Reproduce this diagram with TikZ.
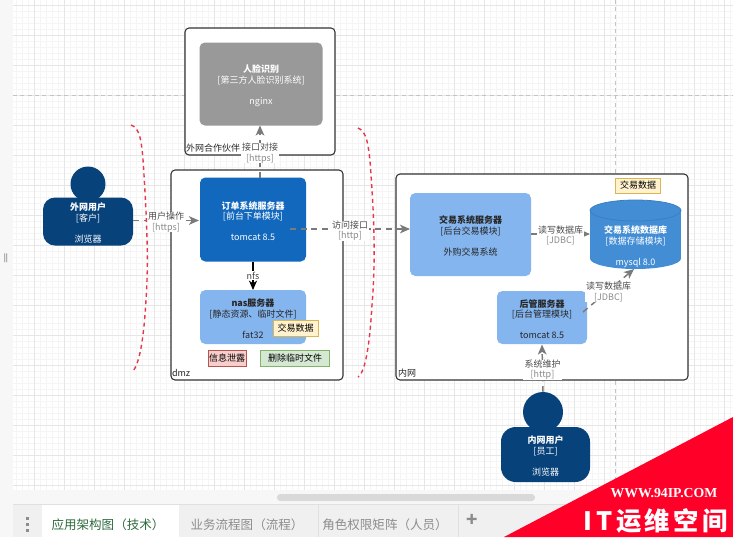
\documentclass[tikz,border=0pt]{standalone}
\usepackage{fontspec}
\setmainfont{Noto Sans CJK SC}
\newfontfamily\wmlatin{Liberation Serif}
\newfontfamily\wmcjk[LetterSpace=14]{Noto Sans CJK SC}
\usetikzlibrary{arrows.meta}
\definecolor{gridminor}{HTML}{F5F5F5}
\definecolor{gridmajor}{HTML}{E6E6E6}
\definecolor{pagebreak}{HTML}{C4C4C4}
\definecolor{edgegray}{HTML}{7A7A7A}
\definecolor{subgray}{HTML}{8A8A8A}
\definecolor{usernavy}{HTML}{08427B}
\definecolor{orderblue}{HTML}{1168BD}
\definecolor{lightblue}{HTML}{85B5EE}
\definecolor{dbblue}{HTML}{438DD5}
\definecolor{dbedge}{HTML}{3C7FC0}
\definecolor{extgray}{HTML}{999999}
\definecolor{notey}{HTML}{FFF2CC}
\definecolor{noteyb}{HTML}{D6B656}
\definecolor{noter}{HTML}{F8CECC}
\definecolor{noterb}{HTML}{B85450}
\definecolor{noteg}{HTML}{D5E8D4}
\definecolor{notegb}{HTML}{82B366}
\definecolor{curve}{HTML}{E8364A}
\definecolor{wmred}{HTML}{FF0029}
\definecolor{tabgreen}{HTML}{2E6B3E}
\definecolor{tabgray}{HTML}{8C8C8C}
\tikzset{
  x=0.75pt,y=-0.75pt,
  every node/.style={font=\fontsize{6.75pt}{7.9pt}\selectfont,align=center,inner sep=0pt,outer sep=0pt},
  boundary/.style={draw=black!80,line width=0.8pt,fill=white,rounded corners=3pt,anchor=north west},
  sysbox/.style={rounded corners=4pt,anchor=center},
  caplabel/.style={anchor=west,text=black!85},
  usertext/.style={text=white},
  notebox/.style={draw=#1,line width=0.6pt,anchor=center},
  edgelink/.style={draw=edgegray,line width=1.1pt,dash pattern=on 4.5pt off 3.5pt,-{Stealth[length=7.5pt,width=6.5pt,inset=2pt]}},
  edgetext/.style={fill=white,text=black!70,inner xsep=1pt,yshift=-1.2pt},
  redcurve/.style={draw=curve,line width=1.05pt,dash pattern=on 3pt off 2.6pt},
  tabtext/.style={font=\fontsize{9.4pt}{11pt}\selectfont,text=tabgray},
}
\newcommand{\gsub}[1]{\textcolor{subgray}{#1}}
\newcommand{\firstln}{\rule{0pt}{8.1pt}}
\begin{document}
\begin{tikzpicture}
\useasboundingbox (0,0) rectangle (733,537);
\fill[white] (0,0) rectangle (733,537);
% canvas grid
\foreach \gx in {16,22,...,733} \draw[gridminor,line width=0.35pt] (\gx,0) -- (\gx,490);
\foreach \gy in {5,11,...,490} \draw[gridminor,line width=0.35pt] (13,\gy) -- (733,\gy);
\foreach \gx in {34,64,...,733} \draw[gridmajor,line width=0.5pt] (\gx,0) -- (\gx,490);
\foreach \gy in {5,35,...,490} \draw[gridmajor,line width=0.5pt] (13,\gy) -- (733,\gy);
\draw[pagebreak,line width=0.5pt,dash pattern=on 3pt off 2.5pt] (13,95) -- (733,95);
\draw[pagebreak,line width=0.5pt,dash pattern=on 3pt off 2.5pt] (615,0) -- (615,490);
% editor chrome
\fill[white!97!black] (0,0) rectangle (13,537);
\fill[white!97!black] (13,490) rectangle (733,504);
\fill[white!94!black] (13,504) rectangle (733,537);
\draw[white!88!black,line width=0.4pt] (13,504) -- (733,504);
\fill[white] (42,505) rectangle (179,537);
\draw[white!88!black,line width=0.4pt] (318,505) -- (318,537) (458,505) -- (458,537);
\fill[white!85!black,rounded corners=2.5pt] (277,494) rectangle (535,501);
\node[text=black!70,font=\fontsize{6pt}{7pt}\selectfont] (grip) at (6,258) {||};
\foreach \dy in {518,524,530} \fill[black!45] (25.5,\dy-1.5) rectangle (28.5,\dy+1.5);
\node[tabtext,text=tabgreen] (tab1) at (108,525) {应用架构图（技术）};
\node[tabtext] (tab2) at (247,525) {业务流程图（流程）};
\node[tabtext] (tab3) at (385,525) {角色权限矩阵（人员）};
\node[tabtext,font=\fontsize{14pt}{14pt}\selectfont\bfseries] (tabplus) at (472,520) {+};
% boundaries
\node[boundary,minimum width=150*0.75pt,minimum height=127*0.75pt] (partner) at (185,28) {};
\node[boundary,minimum width=172*0.75pt,minimum height=210*0.75pt] (dmz) at (171,170) {};
\node[boundary,minimum width=292*0.75pt,minimum height=206*0.75pt] (intranet) at (396,174) {};
\node[caplabel] (partnercap) at (186,148) {外网合作伙伴};
\node[caplabel] (dmzcap) at (172,373) {dmz};
\node[caplabel] (intranetcap) at (398,373) {内网};
% systems
\node[sysbox,fill=extgray,text=white,minimum width=123*0.75pt,minimum height=83*0.75pt] (face) at (261,84) {\firstln\textbf{人脸识别}\\{}[第三方人脸识别系统]\\[7.9pt]nginx};
\node[sysbox,fill=orderblue,text=white,minimum width=106*0.75pt,minimum height=84*0.75pt] (order) at (253,219.5) {\firstln\textbf{订单系统服务器}\\{}[前台下单模块]\\[7.9pt]tomcat 8.5};
\node[sysbox,fill=lightblue,text=black!85,minimum width=106*0.75pt,minimum height=54*0.75pt] (nas) at (253,317) {\firstln\textbf{nas服务器}\\{}[静态资源、临时文件]\\[7.9pt]fat32};
\node[sysbox,fill=lightblue,text=black!85,minimum width=121*0.75pt,minimum height=83*0.75pt] (trade) at (470.5,234.5) {\firstln\textbf{交易系统服务器}\\{}[后台交易模块]\\[7.9pt]外购交易系统};
\node[sysbox,fill=lightblue,text=black!85,minimum width=90*0.75pt,minimum height=53*0.75pt] (admin) at (542,317.5) {\firstln\textbf{后管服务器}\\{}[后台管理模块]\\[7.9pt]tomcat 8.5};
% database cylinder
\coordinate (db) at (635.5,234.5);
\fill[dbblue] (590,210.5) rectangle (681,258.5);
\fill[dbblue] (635.5,258.5) ellipse[x radius=45.5,y radius=10.5];
\filldraw[fill=dbblue,draw=dbedge,line width=0.6pt] (635.5,210.5) ellipse[x radius=45.5,y radius=10.5];
\node[usertext] (dbtext) at (635.5,246.5) {\textbf{交易系统数据库}\\{}[数据存储模块]\\[7.9pt]mysql 8.0};
% notes
\node[notebox=noteyb,fill=notey,minimum width=45*0.75pt,minimum height=16*0.75pt] (note1) at (295.5,328) {交易数据};
\node[notebox=noterb,fill=noter,minimum width=38*0.75pt,minimum height=16*0.75pt] (note2) at (227,358) {信息泄露};
\node[notebox=notegb,fill=noteg,minimum width=69*0.75pt,minimum height=16*0.75pt] (note3) at (295,358) {删除临时文件};
\node[notebox=noteyb,fill=notey,minimum width=45*0.75pt,minimum height=15*0.75pt] (note4) at (638,185.5) {交易数据};
% persons
\fill[usernavy] (88,184) circle[radius=17.5];
\node[sysbox,fill=usernavy,rounded corners=9pt,text=white,minimum width=90*0.75pt,minimum height=48*0.75pt] (outuser) at (88,221.5) {\firstln\textbf{外网用户}\\{}[客户]\\[7.9pt]浏览器};
\fill[usernavy] (543,412) circle[radius=20];
\node[sysbox,fill=usernavy,rounded corners=11pt,text=white,minimum width=89*0.75pt,minimum height=55*0.75pt] (inuser) at (545.5,454.5) {\firstln\textbf{内网用户}\\{}[员工]\\[7.9pt]浏览器};
% connectors
\coordinate (orderout) at (290,229);
\coordinate (tradein) at (410,229);
\coordinate (adminout) at (583,312);
\coordinate (dbin) at (634,269);
\coordinate (orderup) at (260,178);
\coordinate (faceIn) at (260,125.5);
\coordinate (trout) at (531,234);
\coordinate (dbleft) at (590,234);
\coordinate (inuserup) at (543,392);
\coordinate (adminin) at (542,344.5);
\coordinate (ouout) at (133,220.5);
\coordinate (orderin) at (199,220.5);
\draw[edgelink] (ouout) -- node[edgetext]{用户操作\\\gsub{[https]}} (orderin);
\draw[edgelink] (orderup) -- node[edgetext]{接口对接\\\gsub{[https]}} (faceIn);
\draw[edgelink] (orderout) -- node[edgetext]{访问接口\\\gsub{[http]}} (tradein);
\draw[edgelink] (trout) -- node[edgetext]{读写数据库\\\gsub{[JDBC]}} (dbleft);
\draw[edgelink] (adminout) -- node[edgetext]{读写数据库\\\gsub{[JDBC]}} (dbin);
\draw[edgelink] (inuserup) -- node[edgetext]{系统维护\\\gsub{[http]}} (adminin);
\draw[black,line width=1pt,-{Stealth[length=7pt,width=6pt,inset=2pt]}] (order.south) -- node[fill=white,text=black!75,inner xsep=1pt,inner ysep=0.5pt]{nfs} (nas.north);
% red curves
\draw[redcurve] (131,125) .. controls (140,128) and (142,140) .. (144,175) .. controls (148,240) and (148,270) .. (146,300) .. controls (144,335) and (140,365) .. (132,372);
\draw[redcurve] (358,128) .. controls (366,131) and (369,142) .. (371,175) .. controls (375,230) and (375,270) .. (372,305) .. controls (370,340) and (366,372) .. (358,377);
% watermark
\fill[wmred] (504,537) -- (733,417) -- (733,537) -- cycle;
\node[text=white,font=\wmlatin\fontsize{10.3pt}{11pt}\selectfont\bfseries] (wmurl) at (664,493) {WWW.94IP.COM};
\node[text=white,font=\wmcjk\fontsize{19pt}{22pt}\selectfont\bfseries] (wmname) at (656,520.5) {IT运维空间};
\end{tikzpicture}
\end{document}
